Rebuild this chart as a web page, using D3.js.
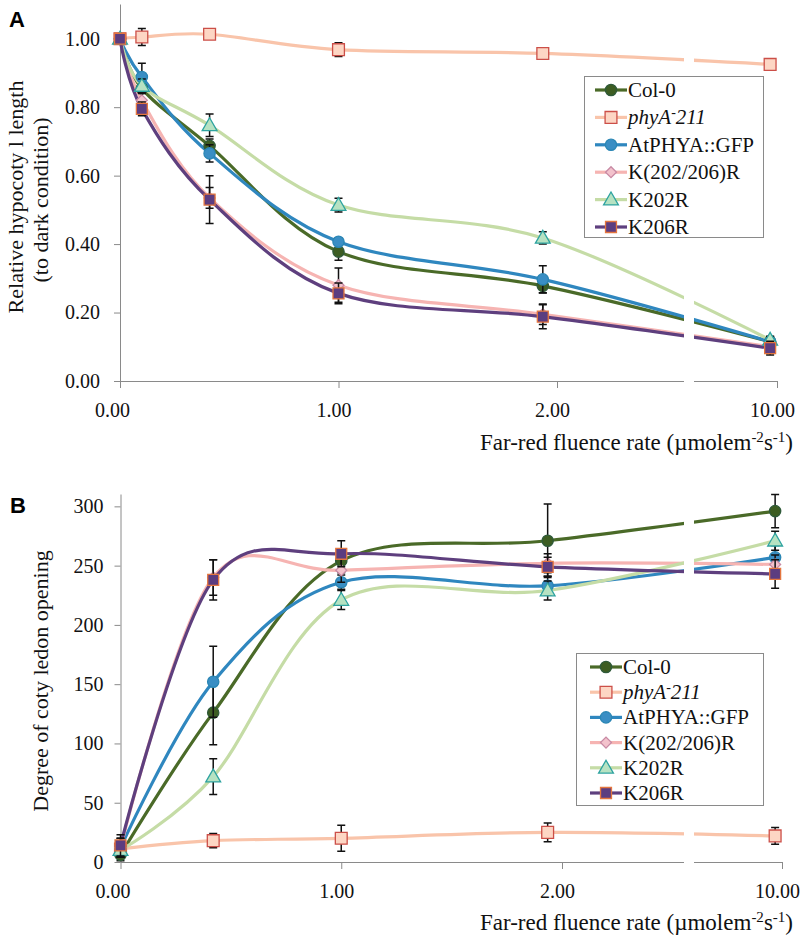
<!DOCTYPE html>
<html><head><meta charset="utf-8">
<script src="https://cdn.jsdelivr.net/npm/d3@7"></script>
<style>
html,body{margin:0;padding:0;background:#fff;}
svg{display:block;}
</style></head>
<body>
<svg id="chart" width="800" height="940"></svg>
<script>
// ---------- DATA ----------
const seriesNames = ["Col-0", "phyA-211", "AtPHYA::GFP", "K(202/206)R", "K202R", "K206R"];
const xTickValues = [0, 1, 2, 10];
const xTickLabels = ["0.00", "1.00", "2.00", "10.00"];

// Panel A: relative hypocotyl length
const xA = [0, 0.1, 0.41, 1, 1.935, 9.75];
const hypCol0  = [1.00, 0.855, 0.687, 0.378, 0.278, 0.115];
const hypPhyA  = [1.00, 1.005, 1.013, 0.968, 0.957, 0.925];
const hypGFP   = [1.00, 0.888, 0.665, 0.407, 0.297, 0.115];
const hypK2026 = [1.00, 0.820, 0.535, 0.280, 0.195, 0.100];
const hypK202  = [1.00, 0.862, 0.747, 0.514, 0.418, 0.120];
const hypK206  = [1.00, 0.795, 0.530, 0.256, 0.188, 0.096];
const errCol0  = [0.01, 0.03, 0.02, 0.025, 0.02, 0.015];
const errPhyA  = [0.01, 0.025, 0.01, 0.02, 0.01, 0.015];
const errGFP   = [0.01, 0.04, 0.025, 0.01, 0.04, 0.015];
const errK2026 = [0.01, 0.02, 0.03, 0.05, 0.03, 0.02];
const errK202  = [0.01, 0.02, 0.033, 0.02, 0.018, 0.01];
const errK206  = [0.01, 0.02, 0.07, 0.03, 0.035, 0.02];
const yTicksA = [0, 0.2, 0.4, 0.6, 0.8, 1.0];

// Panel B: degree of cotyledon opening
const xB = [0, 0.42, 1, 1.935, 9.75];
const cotCol0  = [6, 126, 254, 271, 296];
const cotPhyA  = [11, 18, 20, 25, 22];
const cotGFP   = [12, 152, 236, 233, 257];
const cotK2026 = [12, 240, 246, 252, 251];
const cotK202  = [10, 72, 221, 229, 271];
const cotK206  = [14, 238, 260, 249, 243];
const eCol0  = [5, 27, 10, 31, 14];
const ePhyA  = [5, 6, 11, 8, 7];
const eGFP   = [8, 30, 6, 8, 10];
const eK2026 = [8, 15, 10, 8, 8];
const eK202  = [6, 15, 8, 8, 8];
const eK206  = [9, 17, 11, 8, 12];
const yTicksB = [0, 50, 100, 150, 200, 250, 300];

// ---------- STYLES ----------
const SERIF = "'Liberation Serif', 'Times New Roman', Tinos, serif";
const styles = [
  {line:"#4a6a28", fill:"#3d5d22", stroke:"#2f5a3a", sym:"circle",  size:100},
  {line:"#f9c4aa", fill:"#fdd6c4", stroke:"#cc4f48", sym:"square",  size:140},
  {line:"#2f87bf", fill:"#3a8ec4", stroke:"#2a86b4", sym:"circle",  size:100},
  {line:"#f6b4b2", fill:"#f3c2cc", stroke:"#c88aa4", sym:"diamond", size:60},
  {line:"#c5dca6", fill:"#b6e2c2", stroke:"#2ea3a0", sym:"triangle",size:95},
  {line:"#5e3f7e", fill:"#5c3d80", stroke:"#e4763f", sym:"square",  size:120}
];

const svg = d3.select("#chart");

function marker(g, st, x, y) {
  let type = st.sym === "circle" ? d3.symbolCircle :
             st.sym === "triangle" ? d3.symbolTriangle : d3.symbolSquare;
  const p = g.append("path")
    .attr("d", d3.symbol().type(type).size(st.size)())
    .attr("fill", st.fill).attr("stroke", st.stroke).attr("stroke-width", 1.3);
  if (st.sym === "diamond") p.attr("transform", `translate(${x},${y}) rotate(45)`);
  else if (st.sym === "triangle") p.attr("transform", `translate(${x},${y+1})`);
  else p.attr("transform", `translate(${x},${y})`);
}

function serifText(sel, size) {
  return sel.style("font-family", SERIF).style("font-size", size + "px").attr("fill", "#111");
}

function panel(cfg) {
  const g = svg.append("g");
  const x = d3.scaleLinear().domain([0, 2, 10]).range(cfg.xRange);
  const y = d3.scaleLinear().domain(cfg.yDomain).range(cfg.yRange);
  const axisColor = "#8a8a8a";

  // y axis
  const ya = g.append("g").attr("transform", `translate(${cfg.xRange[0]},0)`)
    .call(d3.axisLeft(y).tickValues(cfg.yTicks).tickFormat(cfg.yFmt).tickSize(6).tickPadding(cfg.yPad));
  ya.attr("font-family", null).attr("font-size", null);
  ya.select(".domain").attr("stroke", axisColor).attr("d", `M0.5,${cfg.yRange[0]}V${cfg.yRange[1]}`);
  ya.selectAll(".tick line").attr("stroke", axisColor);
  serifText(ya.selectAll(".tick text"), 20);

  // x axis
  const xa = g.append("g").attr("transform", `translate(0,${cfg.yRange[0]})`)
    .call(d3.axisBottom(x).tickValues(xTickValues).tickFormat((d,i) => xTickLabels[i]).tickSize(7).tickPadding(15));
  xa.attr("font-family", null).attr("font-size", null);
  xa.select(".domain").attr("stroke", axisColor).attr("d", `M${cfg.xRange[0]},0.5H${cfg.xRange[2]}`);
  xa.selectAll(".tick line").attr("stroke", axisColor);
  serifText(xa.selectAll(".tick text"), 20).attr("dx", (d) => d === 0 ? -8 : -5);

  // lines
  const line = d3.line().x(d => x(d[0])).y(d => y(d[1])).curve(d3.curveCardinal.tension(0));
  cfg.series.forEach((s, i) => {
    g.append("path").datum(cfg.xs.map((xv, j) => [xv, s[j]]))
      .attr("d", line).attr("fill", "none").attr("stroke", styles[i].line)
      .attr("stroke-width", 3.2).attr("stroke-linecap", "round");
  });

  // axis break
  g.append("rect").attr("x", 684).attr("y", cfg.yRange[1] - 5).attr("width", 10)
    .attr("height", cfg.yRange[0] - cfg.yRange[1] + 6).attr("fill", "#fff");

  // error bars + markers
  cfg.series.forEach((s, i) => {
    const e = cfg.errs[i];
    cfg.xs.forEach((xv, j) => {
      const cx = x(xv), y1 = y(s[j] + e[j]), y2 = y(s[j] - e[j]);
      g.append("path").attr("d", `M${cx},${y1}V${y2}M${cx-4},${y1}H${cx+4}M${cx-4},${y2}H${cx+4}`)
        .attr("stroke", "#111").attr("stroke-width", 1.5).attr("fill", "none");
    });
    cfg.xs.forEach((xv, j) => marker(g, styles[i], x(xv), y(s[j])));
  });

  // legend
  const L = cfg.legend;
  const lg = g.append("g");
  lg.append("rect").attr("x", L.x + 0.5).attr("y", L.y + 0.5).attr("width", L.w).attr("height", L.h)
    .attr("fill", "#fff").attr("stroke", "#8a8a8a").attr("stroke-width", 1);
  seriesNames.forEach((name, i) => {
    const cy = L.y0 + i * L.step;
    lg.append("line").attr("x1", L.lx).attr("x2", L.lx + 32).attr("y1", cy).attr("y2", cy)
      .attr("stroke", styles[i].line).attr("stroke-width", 3.2);
    marker(lg, styles[i], L.lx + 16, cy);
    const t = serifText(lg.append("text").attr("x", L.lx + 33).attr("y", cy + 7), 21);
    if (name === "phyA-211") {
      t.style("font-style", "italic");
      t.append("tspan").text("phyA");
      t.append("tspan").attr("dy", -7).style("font-size", "14px").text("-");
      t.append("tspan").attr("dy", 7).text("211");
    } else t.text(name);
  });

  // x title
  const xt = serifText(g.append("text").attr("x", 793).attr("y", cfg.xTitleY).attr("text-anchor", "end"), 23);
  xt.append("tspan").text("Far-red fluence rate (µmolem");
  xt.append("tspan").attr("dy", -8).style("font-size", "15px").text("-2");
  xt.append("tspan").attr("dy", 8).text("s");
  xt.append("tspan").attr("dy", -8).style("font-size", "15px").text("-1");
  xt.append("tspan").attr("dy", 8).text(")");

  // y title
  cfg.yTitle.forEach((tl) => {
    serifText(g.append("text").attr("transform", `translate(${tl.x},${tl.y}) rotate(-90)`)
      .attr("text-anchor", "middle"), 22).text(tl.t);
  });

  // panel letter
  g.append("text").attr("x", cfg.letter.x).attr("y", cfg.letter.y)
    .style("font-family", "'Liberation Sans', Arial, sans-serif").style("font-weight", "bold")
    .style("font-size", "22px").attr("fill", "#000").text(cfg.letter.t);
}

panel({
  xRange: [120, 557, 777], yDomain: [0, 1.1], yRange: [381, 4.5],
  yTicks: yTicksA, yFmt: d3.format(".2f"), yPad: 14,
  xs: xA,
  series: [hypCol0, hypPhyA, hypGFP, hypK2026, hypK202, hypK206],
  errs: [errCol0, errPhyA, errGFP, errK2026, errK202, errK206],
  legend: {x: 584, y: 76, w: 179, h: 161, lx: 595, y0: 90, step: 27.4},
  xTitleY: 450,
  yTitle: [{x: 23, y: 197, t: "Relative hypocoty l length"}, {x: 48, y: 200, t: "(to dark condition)"}],
  letter: {x: 9, y: 27, t: "A"}
});

panel({
  xRange: [120.5, 562, 782], yDomain: [0, 310], yRange: [862, 494.5],
  yTicks: yTicksB, yFmt: d3.format("d"), yPad: 11,
  xs: xB,
  series: [cotCol0, cotPhyA, cotGFP, cotK2026, cotK202, cotK206],
  errs: [eCol0, ePhyA, eGFP, eK2026, eK202, eK206],
  legend: {x: 576, y: 653, w: 187, h: 152, lx: 590, y0: 667, step: 25.2},
  xTitleY: 930,
  yTitle: [{x: 48, y: 681, t: "Degree of coty ledon opening"}],
  letter: {x: 10, y: 513, t: "B"}
});
</script>
</body></html>
